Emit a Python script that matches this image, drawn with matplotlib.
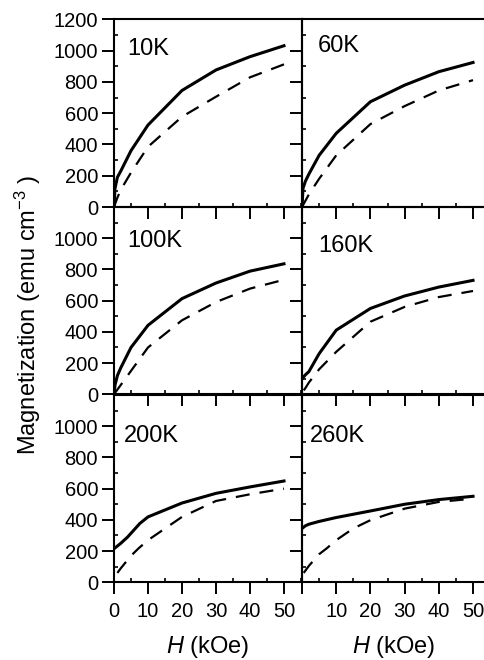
import matplotlib
matplotlib.use("Agg")
import matplotlib.pyplot as plt
from matplotlib.ticker import MultipleLocator, FixedLocator

plt.rcParams['font.family'] = ['Liberation Sans', 'DejaVu Sans']
plt.rcParams['mathtext.fontset'] = 'custom'
plt.rcParams['mathtext.it'] = 'Liberation Sans:italic'
plt.rcParams['mathtext.rm'] = 'Liberation Sans'

# ---- data (H in kOe, M in emu cm^-3) ----
labels = ["10K", "60K", "100K", "160K", "200K", "260K"]

H_s_10K = [0, 0.3, 1, 2, 5, 10, 20, 30, 40, 50]
M_s_10K = [0, 120, 190, 230, 360, 524, 745, 876, 961, 1031]
H_d_10K = [0, 1, 2, 5, 10, 20, 30, 40, 50]
M_d_10K = [0, 60, 110, 220, 385, 577, 705, 829, 912]

H_s_60K = [0, 0.3, 1, 2, 5, 10, 20, 30, 40, 50]
M_s_60K = [0, 120, 165, 210, 330, 471, 673, 779, 865, 924]
H_d_60K = [0, 1, 2, 5, 10, 20, 30, 40, 50]
M_d_60K = [0, 40, 80, 180, 330, 530, 645, 745, 811]

H_s_100K = [0, 0.3, 1, 2, 5, 10, 20, 30, 40, 50]
M_s_100K = [0, 60, 120, 170, 300, 442, 613, 713, 789, 836]
H_d_100K = [0, 1, 2, 5, 10, 20, 30, 40, 50]
M_d_100K = [0, 30, 60, 150, 300, 474, 591, 677, 734]

H_s_160K = [0, 1, 2, 5, 10, 20, 30, 40, 50]
M_s_160K = [100, 125, 145, 260, 411, 550, 630, 687, 730]
H_d_160K = [0.5, 1, 2, 5, 10, 20, 30, 40, 50]
M_d_160K = [25, 40, 75, 160, 272, 465, 560, 623, 662]

H_s_200K = [0, 2, 4, 7.6, 10, 20, 30, 40, 50]
M_s_200K = [215, 250, 290, 377, 419, 508, 570, 611, 649]
H_d_200K = [1, 2, 5, 7.2, 10, 20, 30, 40, 50]
M_d_200K = [60, 90, 170, 217, 270, 419, 521, 564, 600]

H_s_260K = [0, 1, 2, 5, 10, 20, 30, 40, 50]
M_s_260K = [345, 362, 372, 390, 415, 457, 500, 530, 551]
H_d_260K = [0.5, 2, 5, 7.2, 10, 15, 20, 30, 40, 50]
M_d_260K = [60, 105, 180, 217, 270, 345, 398, 472, 515, 536]

solid_H = [H_s_10K, H_s_60K, H_s_100K, H_s_160K, H_s_200K, H_s_260K]
solid_M = [M_s_10K, M_s_60K, M_s_100K, M_s_160K, M_s_200K, M_s_260K]
dash_H = [H_d_10K, H_d_60K, H_d_100K, H_d_160K, H_d_200K, H_d_260K]
dash_M = [M_d_10K, M_d_60K, M_d_100K, M_d_160K, M_d_200K, M_d_260K]

x_ticks = [0, 10, 20, 30, 40, 50]
y_ticks_top = [0, 200, 400, 600, 800, 1000, 1200]
y_ticks_low = [0, 200, 400, 600, 800, 1000]

# ---- layout ----
W, Hpx = 485, 660
fig = plt.figure(figsize=(W / 100, Hpx / 100), dpi=100)
fig.patch.set_facecolor('white')

col_x = [(114, 302, 55.3), (302, 485, 53.5)]
row_y = [(19.3, 207.0), (207.0, 394.3), (395.0, 582.3)]
label_pos = [(0.069, 0.81), (0.087, 0.826), (0.069, 0.786), (0.087, 0.76),
             (0.05, 0.749), (0.045, 0.749)]

axes = []
for r in range(3):
    for c in range(2):
        x0, x1, xmax = col_x[c]
        y0, y1 = row_y[r]
        ax = fig.add_axes([x0 / W, 1 - y1 / Hpx, (x1 - x0) / W, (y1 - y0) / Hpx])
        ax.set_facecolor('none')
        axes.append((r, c, ax, xmax))

for i, (r, c, ax, xmax) in enumerate(axes):
    ax.plot(solid_H[i], solid_M[i], color='black', lw=2.2, solid_joinstyle='round')
    ax.plot(dash_H[i], dash_M[i], color='black', lw=1.6, dashes=(6.3, 4.5))
    ax.set_xlim(0, xmax)
    ax.set_ylim(0, 1200)
    for s in ax.spines.values():
        s.set_linewidth(1.5)
    if c == 1:
        ax.spines['right'].set_visible(False)
    ax.xaxis.set_major_locator(FixedLocator(x_ticks))
    ax.xaxis.set_minor_locator(MultipleLocator(5))
    ax.yaxis.set_major_locator(FixedLocator(y_ticks_top if r == 0 else y_ticks_low))
    ax.yaxis.set_minor_locator(MultipleLocator(100))
    ax.tick_params(which='major', direction='out', length=8.5, width=1.4,
                   labelsize=14.5, top=False, right=False, pad=3)
    ax.tick_params(axis='x', which='major', pad=6)
    ax.tick_params(which='minor', direction='in', length=3, width=1.2,
                   top=False, right=False)
    if c == 1:
        ax.tick_params(axis='y', labelleft=False)
    if r < 2:
        ax.tick_params(axis='x', labelbottom=False)
    else:
        ax.set_xlabel('$H$ (kOe)', fontsize=17, labelpad=9)
        if c == 1:
            ax.set_xticks(x_ticks)
            ax.set_xticklabels([''] + [str(v) for v in x_ticks[1:]])
    lx, ly = label_pos[i]
    ax.text(lx, ly, labels[i], transform=ax.transAxes, fontsize=17,
            ha='left', va='baseline')

fig.text(28 / W, 1 - 315 / Hpx, 'Magnetization (emu cm$^{-3}$ )', rotation=90,
         ha='center', va='center', fontsize=17)

fig.savefig('out.png', dpi=100)
